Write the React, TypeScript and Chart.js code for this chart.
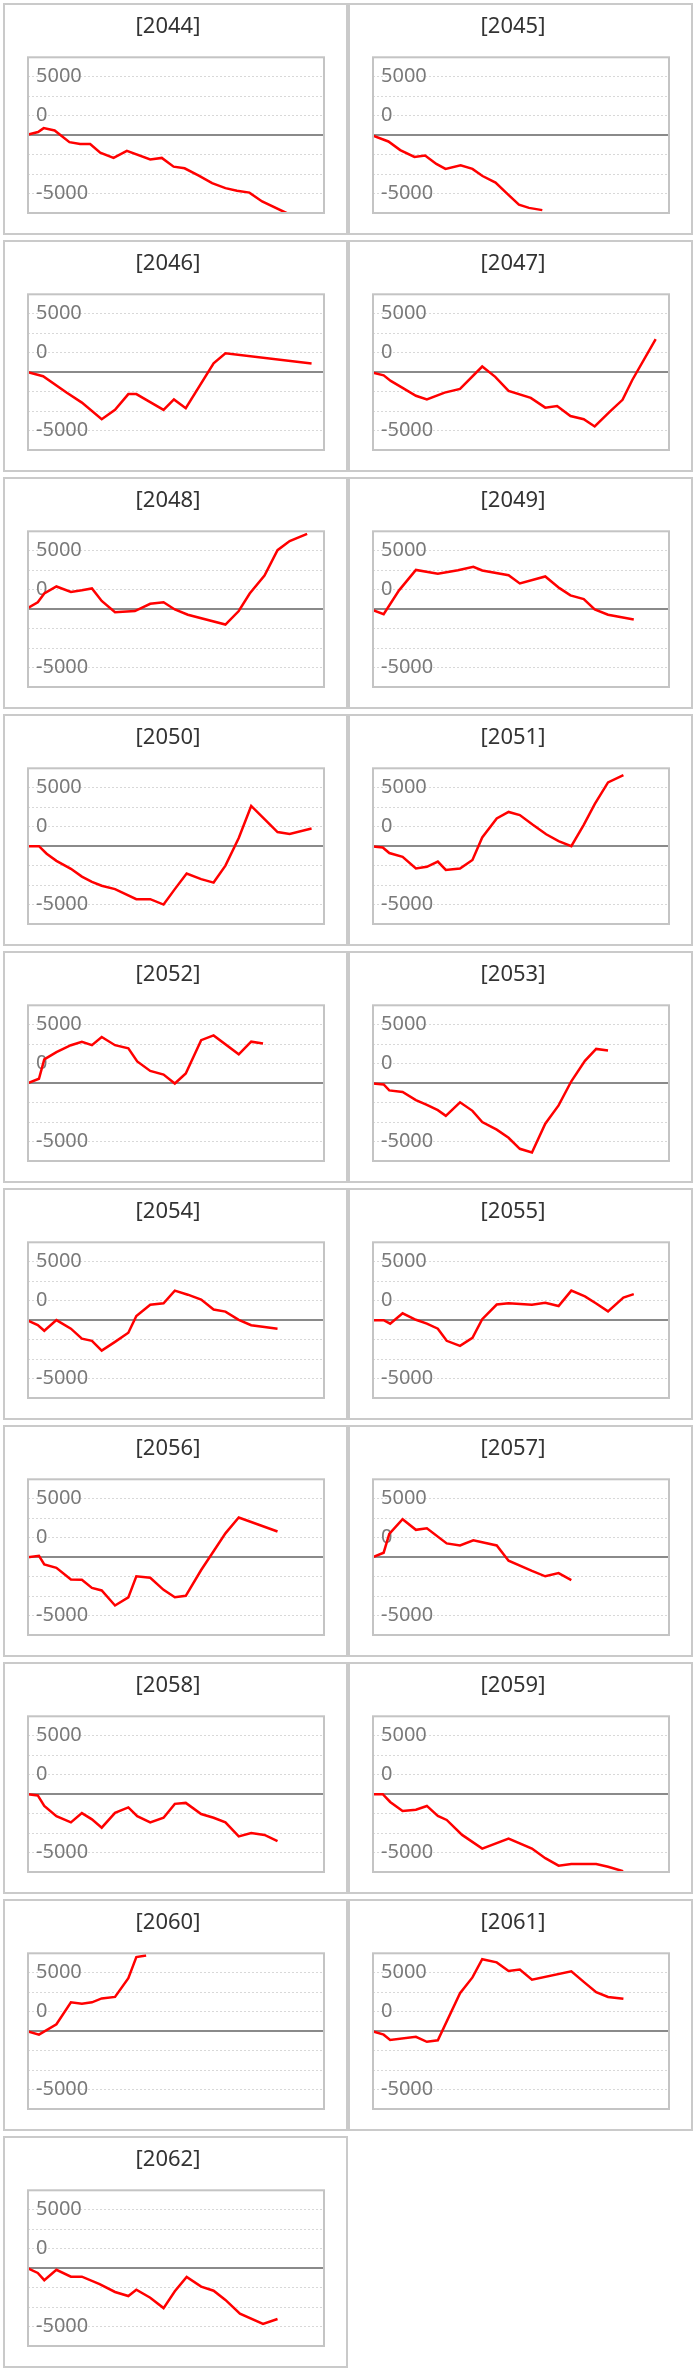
import React, { useRef, useEffect } from 'react';
import { Chart, registerables } from 'chart.js';

Chart.register(...registerables);

// one small series per year: [t, value] pairs, t runs 0..100 across the period
const years = ['2044', '2045', '2046', '2047', '2048', '2049', '2050', '2051', '2052', '2053',
  '2054', '2055', '2056', '2057', '2058', '2059', '2060', '2061', '2062'];

const s2044: [number, number][] = [[0, 50], [3.4, 270], [5.3, 600], [9, 400], [14, -600], [17.6, -760], [21, -760], [24.4, -1510], [28.9, -1950], [33.4, -1350], [41.3, -2080], [45.2, -1950], [49.2, -2700], [52.9, -2840], [57.7, -3460], [62.2, -4110], [66.7, -4540], [70.6, -4760], [74.8, -4920], [79.1, -5680], [88, -6750]];
const s2045: [number, number][] = [[0, -50], [5.2, -540], [9.2, -1280], [14, -1870], [17.6, -1740], [21.4, -2460], [24.5, -2890], [29.6, -2590], [33.6, -2890], [37, -3500], [41.4, -4060], [45.4, -5030], [49.3, -5960], [52.7, -6230], [57.2, -6420]];
const s2046: [number, number][] = [[0, 0], [5.1, -350], [13, -1750], [18.2, -2610], [24.9, -4030], [29.4, -3230], [33.9, -1880], [36.6, -1880], [45.8, -3230], [49.3, -2340], [53.3, -3090], [62.7, 750], [66.7, 1610], [95.8, 750]];
const s2047: [number, number][] = [[0, -50], [3.6, -270], [6, -750], [10, -1340], [14.5, -2020], [18.2, -2340], [24.2, -1750], [29.4, -1430], [36.9, 480], [41.3, -400], [45.8, -1610], [53.3, -2200], [58.2, -3040], [62.2, -2900], [66.7, -3760], [71.2, -4030], [74.9, -4650], [80.1, -3360], [84.3, -2370], [87.6, -670], [95.5, 2820]];
const s2048: [number, number][] = [[0, 110], [3.3, 590], [5.5, 1340], [9.6, 1940], [14.5, 1480], [18.2, 1610], [21.6, 1770], [24.9, 700], [29.4, -270], [36.1, -160], [41.3, 460], [45.8, 590], [49.6, -30], [54, -480], [66.7, -1320], [71.2, -160], [74.9, 1340], [79.9, 2880], [84.3, 5050], [88.4, 5830], [94.3, 6450]];
const s2049: [number, number][] = [[0, -80], [3.6, -430], [8.8, 1610], [14.5, 3360], [21.9, 3040], [28.7, 3330], [33.9, 3630], [36.9, 3310], [45.8, 2900], [49.6, 2200], [58.2, 2800], [63, 1800], [66.7, 1180], [71.2, 860], [74.9, -30], [79.4, -480], [88.1, -890]];
const s2050: [number, number][] = [[0, 0], [3.7, 0], [6.3, -650], [9.6, -1260], [14.5, -1940], [18.2, -2610], [21.6, -3060], [24.9, -3390], [29.4, -3680], [36.6, -4540], [41.3, -4540], [45.8, -5000], [49.6, -3680], [53.6, -2340], [58.5, -2820], [62.7, -3120], [66.7, -1670], [71.2, 700], [75.4, 3440], [79.9, 2310], [84.3, 1210], [88.4, 1050], [95.8, 1510]];
const s2051: [number, number][] = [[0, -30], [3.3, -110], [5.5, -590], [10, -910], [14.5, -1910], [18.2, -1770], [21.9, -1320], [24.6, -2040], [29.4, -1910], [33.6, -1180], [36.9, 750], [41.8, 2370], [45.8, 2930], [49.6, 2660], [54, 1830], [58.5, 1020], [62.7, 430], [67, 0], [71.2, 1830], [74.9, 3600], [79.4, 5460], [84.6, 6080]];
const s2052: [number, number][] = [[0, 0], [3.7, 380], [5.5, 2040], [9.6, 2660], [14.5, 3250], [18.2, 3550], [21.6, 3250], [24.9, 3950], [29.4, 3250], [33.9, 2980], [36.9, 1860], [41.3, 1050], [45.8, 730], [49.6, -30], [53.3, 830], [58.5, 3680], [62.7, 4090], [71.2, 2470], [75.4, 3550], [79.4, 3390]];
const s2053: [number, number][] = [[0, -30], [3.6, -110], [5.5, -620], [10, -750], [14.5, -1450], [18.2, -1860], [21.9, -2310], [24.6, -2800], [29.4, -1640], [33.6, -2370], [36.9, -3330], [41.8, -3980], [45.8, -4680], [49.6, -5620], [53.7, -5940], [58.2, -3470], [62.7, -1910], [67, 160], [71.6, 1910], [75.4, 2930], [79.4, 2800]];
const s2054: [number, number][] = [[0, -50], [3.3, -430], [5.5, -910], [9.6, 0], [14.5, -730], [18.2, -1590], [21.6, -1770], [24.9, -2610], [29.4, -1860], [33.9, -1080], [36.6, 350], [41.3, 1320], [45.8, 1450], [49.6, 2530], [54, 2180], [58.5, 1770], [62.7, 910], [66.7, 730], [71.2, 30], [75.4, -430], [79.9, -590], [84.3, -730]];
const s2055: [number, number][] = [[0, 0], [3.6, 0], [5.8, -300], [10, 590], [14.5, 30], [18.2, -300], [21.9, -730], [24.9, -1770], [29.4, -2200], [33.6, -1510], [36.9, 80], [41.8, 1340], [45.8, 1450], [53.7, 1320], [58.2, 1480], [62.7, 1210], [67, 2530], [71.6, 2040], [75.4, 1430], [79.4, 750], [84.6, 1940], [88.1, 2230]];
const s2056: [number, number][] = [[0, 0], [3.7, 110], [5.5, -620], [9.6, -910], [14.5, -1910], [18.2, -1940], [21.6, -2630], [24.9, -2850], [29.4, -4140], [33.9, -3440], [36.6, -1640], [41.3, -1770], [45.8, -2800], [49.6, -3440], [53.3, -3310], [58.5, -1100], [62.7, 510], [66.7, 2040], [71.2, 3390], [84.3, 2200]];
const s2057: [number, number][] = [[0, 0], [3.6, 380], [5.5, 1990], [10, 3250], [14.5, 2340], [18.2, 2470], [24.9, 1180], [29.4, 1000], [33.9, 1450], [41.8, 1000], [45.8, -300], [53.7, -1180], [58.2, -1640], [62.7, -1370], [67, -1960]];
const s2058: [number, number][] = [[0, 0], [3.3, -110], [5.5, -1010], [9.6, -1890], [14.5, -2420], [18.2, -1620], [21.6, -2160], [24.9, -2870], [29.4, -1600], [33.9, -1140], [36.9, -1890], [41.3, -2420], [45.8, -2020], [49.6, -830], [53.3, -750], [58.5, -1700], [62.7, -2020], [66.7, -2420], [71.2, -3620], [75.4, -3330], [79.9, -3490], [84.3, -4020]];
const s2059: [number, number][] = [[0, 0], [3.3, 0], [5.8, -670], [10, -1440], [14.5, -1330], [18.2, -1010], [21.9, -1860], [24.9, -2210], [30.1, -3490], [36.9, -4660], [45.8, -3800], [53.7, -4660], [58.2, -5480], [62.7, -6120], [67, -5990], [75.4, -5990], [79.4, -6220], [84.5, -6600]];
const s2060: [number, number][] = [[0, -30], [3.7, -300], [9.6, 590], [14.5, 2470], [18.2, 2340], [21.6, 2470], [24.9, 2800], [29.4, 2930], [33.9, 4540], [36.6, 6340], [39.9, 6480]];
const s2061: [number, number][] = [[0, -30], [3.6, -300], [5.8, -750], [14.5, -480], [18.2, -910], [21.9, -780], [29.4, 3250], [33.6, 4600], [36.9, 6160], [41.8, 5890], [45.8, 5160], [49.6, 5270], [53.7, 4410], [67, 5130], [71.2, 4220], [75.4, 3330], [79.4, 2930], [84.6, 2770]];
const s2062: [number, number][] = [[0, -30], [3.3, -410], [5.5, -1030], [9.6, -140], [14.5, -730], [18.2, -730], [24.2, -1360], [29.4, -2040], [33.9, -2390], [36.6, -1850], [41.3, -2530], [45.8, -3420], [49.6, -1980], [53.6, -760], [58.5, -1580], [62.7, -1930], [66.7, -2720], [71.6, -3890], [79.4, -4780], [84.3, -4350]];

const seriesByYear: Record<string, [number, number][]> = {
  '2044': s2044, '2045': s2045, '2046': s2046, '2047': s2047, '2048': s2048,
  '2049': s2049, '2050': s2050, '2051': s2051, '2052': s2052, '2053': s2053,
  '2054': s2054, '2055': s2055, '2056': s2056, '2057': s2057, '2058': s2058,
  '2059': s2059, '2060': s2060, '2061': s2061, '2062': s2062,
};

// y grid: 8 steps of 5000/3 between -6667 and 6667
const yStep = 5000 / 3;
const yStepIndex = [-4, -3, -2, -1, 0, 1, 2, 3, 4];
// tick labels as they sit in the original (the "0" sits one gridline above zero)
const yTickLabels: Record<number, string> = { 3: '5000', 1: '0', [-3]: '-5000' };

const FONT = "'Noto Sans', sans-serif";
const TICK_PAD = 8;

const framePlugin = {
  id: 'frame',
  beforeDatasetsDraw(chart: any) {
    const { ctx, chartArea: a, scales } = chart;
    const y0 = Math.round(scales.y.getPixelForValue(0));
    ctx.save();
    ctx.strokeStyle = '#8a8a8a';
    ctx.lineWidth = 2;
    ctx.beginPath();
    ctx.moveTo(a.left - 1, y0);
    ctx.lineTo(a.right + 1, y0);
    ctx.stroke();
    ctx.restore();
  },
  afterDatasetsDraw(chart: any) {
    const { ctx, chartArea: a } = chart;
    ctx.save();
    ctx.strokeStyle = '#c4c4c4';
    ctx.lineWidth = 2;
    ctx.strokeRect(a.left, a.top, a.right - a.left, a.bottom - a.top);
    ctx.restore();
  },
};

const YearChart: React.FC<{ year: string }> = ({ year }) => {
  const chartRef = useRef<HTMLCanvasElement>(null);
  const chartInstanceRef = useRef<Chart | null>(null);

  useEffect(() => {
    if (!chartRef.current) return;
    if (chartInstanceRef.current) chartInstanceRef.current.destroy();
    const pts = seriesByYear[year];
    chartInstanceRef.current = new Chart(chartRef.current, {
      type: 'line',
      data: {
        datasets: [{
          data: pts.map(([t, v]) => ({ x: t, y: v })),
          borderColor: '#ff0000',
          borderWidth: 2.5,
          pointRadius: 0,
          tension: 0,
          fill: false,
        }],
      },
      options: {
        animation: false,
        responsive: false,
        events: [],
        // the mirrored y axis still reserves 2 * tick padding on the left
        layout: { padding: { left: 23 - 2 * TICK_PAD, right: 22, bottom: 10, top: 0 } },
        plugins: {
          legend: { display: false },
          tooltip: { enabled: false },
          title: {
            display: true,
            text: `[${year}]`,
            color: '#333333',
            font: { family: FONT, size: 22, weight: 'normal' },
            padding: { top: 8.5, bottom: 17.4 },
          },
        },
        scales: {
          x: { type: 'linear', min: 0, max: 100, display: false },
          y: {
            min: -4 * yStep,
            max: 4 * yStep,
            afterBuildTicks: (s: any) => {
              s.ticks = yStepIndex.map((k) => ({ value: k * yStep }));
            },
            grid: { color: '#d8d8d8', lineWidth: 1, drawTicks: false },
            border: { display: false, dash: [2, 2] },
            ticks: {
              mirror: true,
              padding: TICK_PAD,
              autoSkip: false,
              color: '#7a7a7a',
              font: { family: FONT, size: 20 },
              callback: (v: any) => yTickLabels[Math.round(Number(v) / yStep)] ?? '',
            },
          },
        },
      },
      plugins: [framePlugin],
    } as any);
    return () => {
      if (chartInstanceRef.current) {
        chartInstanceRef.current.destroy();
        chartInstanceRef.current = null;
      }
    };
  }, [year]);

  return (
    <div style={{ width: 345, height: 232, border: '2px solid #cacaca', boxSizing: 'border-box', marginBottom: 5 }}>
      <canvas ref={chartRef} width={341} height={228} style={{ display: 'block' }}></canvas>
    </div>
  );
};

const App: React.FC = () => (
  <>
    <style>{'body{margin:0;background:#fff}'}</style>
    <div style={{ display: 'flex', flexWrap: 'wrap', width: 690, padding: '3px 0 0 3px' }}>
      {years.map((y) => (
        <YearChart key={y} year={y} />
      ))}
    </div>
  </>
);

export default App;
